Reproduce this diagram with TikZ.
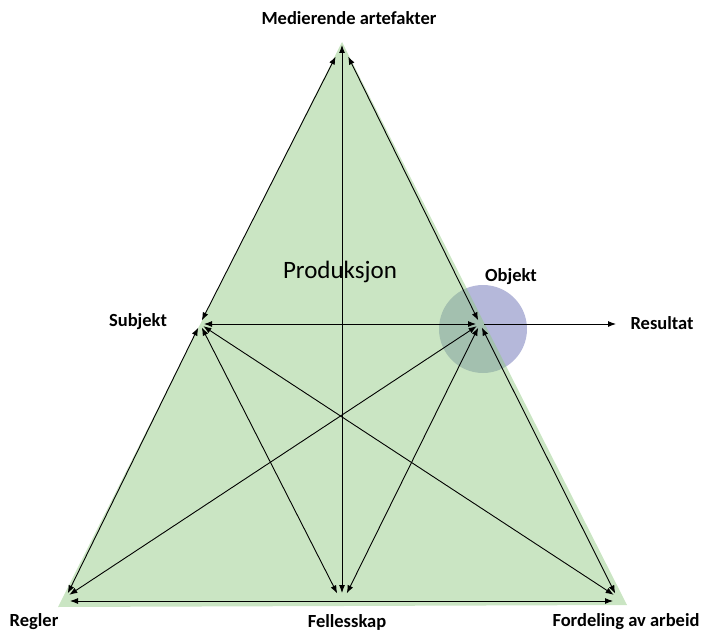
\documentclass[tikz,border=0pt]{standalone}
\usepackage{fontspec}
\setmainfont{Carlito}
\usetikzlibrary{arrows.meta}
\definecolor{trigreen}{RGB}{145,201,129}
\definecolor{objblue}{RGB}{181,184,218}

\begin{document}
\begin{tikzpicture}
[x=1pt, y=-1pt,
% STYLES
% The corner style is used for the names around the triangle
corner/.style={inner sep=1pt, font=\bfseries\fontsize{18.5}{20}\selectfont},
% The link style is used for the arrows between the corners
link/.style={<->, >={Latex[length=8pt,width=6pt]}, line width=0.9pt, shorten <=4pt, shorten >=4pt}]

\useasboundingbox (0,0) rectangle (702,634);

% Draw the object circle behind the triangle
\node [circle, fill=objblue, minimum size=88pt, inner sep=0pt] (objcircle) at (483,329) {};

% Draw the triangle
\fill [trigreen, fill opacity=0.48] (342,42) -- (58,607) -- (627,605) -- cycle;

% Points of the triangle
\coordinate (apex) at (342,44);
\coordinate (subj) at (200,324);
\coordinate (obj) at (480,324);
\coordinate (regl) at (66,597);
\coordinate (fell) at (342,597);
\coordinate (ford) at (617,597);
\coordinate (res) at (616,324);

% Draw the names
\node [corner] (medlabel) at (349,18) {Medierende artefakter};
\node [corner] (subjlabel) at (138,322) {Subjekt};
\node [corner] (objlabel) at (511,277) {Objekt};
\node [corner] (reslabel) at (662,323) {Resultat};
\node [corner] (regllabel) at (34,622) {Regler};
\node [corner] (felllabel) at (347,622) {Fellesskap};
\node [corner] (fordlabel) at (626,622) {Fordeling av arbeid};
\node [font=\fontsize{25}{28}\selectfont] (prod) at (340,272) {Produksjon};

% Draw the links between the corners
\path [link]
(apex) edge [shorten <=1pt] (fell)
(apex) edge [shorten <=14pt] (subj)
(apex) edge [shorten <=14pt] (obj)
(subj) edge (obj)
(subj) edge (regl)
(subj) edge ([xshift=-3pt]fell)
(subj) edge (ford)
(obj) edge (regl)
(obj) edge ([xshift=3pt]fell)
(obj) edge (ford)
([yshift=-4pt]regl) edge ([yshift=-4pt]ford);
\draw [link, <-, shorten >=4pt, shorten <=0pt] (res) -- (obj);

\end{tikzpicture}
\end{document}
